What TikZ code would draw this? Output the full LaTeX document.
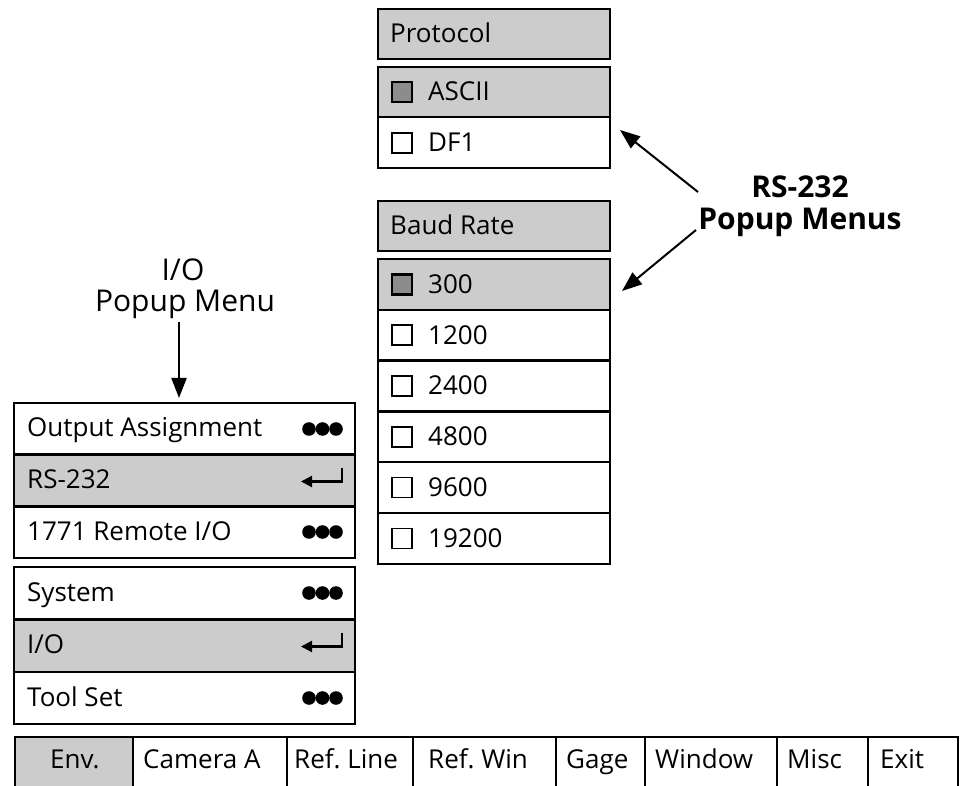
\documentclass[tikz,border=0pt]{standalone}
\usepackage{fontspec}
\setmainfont{Open Sans}
\usetikzlibrary{arrows.meta}
\begin{document}
\frenchspacing
\begin{tikzpicture}[x=1pt,y=-1pt,
  box/.style={draw=black,line width=2.4pt},
  shd/.style={fill=black!20},
  cbox/.style={draw=black,line width=1.6pt},
  cboxon/.style={draw=black,line width=2.6pt,fill=black!45},
  lbl/.style={anchor=base west,inner sep=0pt,font=\fontsize{26}{31}\selectfont},
  big/.style={anchor=base,inner sep=0pt,font=\fontsize{30}{35}\selectfont},
  bigb/.style={anchor=base,inner sep=0pt,font=\fontsize{30}{35}\selectfont\bfseries},
  arr/.style={line width=2pt,-{Triangle[length=20pt,width=15pt]}},
  ret/.style={line width=2.2pt,-{Triangle[length=11pt,width=11pt]}}]
\useasboundingbox (0,0) rectangle (962,786);

% ---------- Protocol ----------
\fill[shd] (378,9) rectangle (610,59);
\draw[box] (378,9) rectangle (610,59);
\node[lbl] (protocol) at (390,43) {Protocol};

\fill[shd] (378,67) rectangle (610,117);
\draw[box] (378,67) rectangle (610,168);
\draw[box] (378,117) -- (610,117);
\draw[cboxon] (392,82) rectangle (412,102);
\node[lbl] (ascii) at (428,101) {ASCII};
\draw[cbox] (392,133) rectangle (412,153);
\node[lbl] (df1) at (428,152) {DF1};

% ---------- Baud Rate ----------
\fill[shd] (378,201) rectangle (610,251);
\draw[box] (378,201) rectangle (610,251);
\node[lbl] (baud) at (390,235) {Baud Rate};

\fill[shd] (378,259) rectangle (610,309.8);
\draw[box] (378,259) rectangle (610,563.8);
\foreach \i in {1,...,5} \draw[box] (378,259+50.8*\i) -- (610,259+50.8*\i);
\draw[cboxon] (392,274.4) rectangle (412,294.4);
\node[lbl] (b300) at (428,293.4) {300};
\foreach \v [count=\i] in {1200,2400,4800,9600,19200}{
  \draw[cbox] (392,274.4+50.8*\i) rectangle (412,294.4+50.8*\i);
  \node[lbl] (b\v) at (428,293.4+50.8*\i) {\v};
}

% ---------- I/O menu ----------
\fill[shd] (14,454.7) rectangle (355,506.3);
\draw[box] (14,403) rectangle (355,558);
\draw[box] (14,454.7) -- (355,454.7);
\draw[box] (14,506.3) -- (355,506.3);
\node[lbl] (outassign) at (27,437) {Output Assignment};
\node[lbl] (rs232) at (27,488.5) {RS-232};
\node[lbl] (remote) at (27,540) {1771 Remote I/O};

% ---------- Main menu ----------
\fill[shd] (14,619.3) rectangle (355,671.7);
\draw[box] (14,567) rectangle (355,724);
\draw[box] (14,619.3) -- (355,619.3);
\draw[box] (14,671.7) -- (355,671.7);
\node[lbl] (system) at (27,601) {System};
\node[lbl] (io) at (27,653.5) {I/O};
\node[lbl] (toolset) at (27,706) {Tool Set};

% dots and return marks
\foreach \y in {429,532,593,698}{
  \fill (309,\y) circle (6.8);
  \fill (322.5,\y) circle (6.8);
  \fill (336,\y) circle (6.8);
}
\foreach \y in {480.5,645.5}{
  \draw[ret] (342,\y-13) -- (342,\y+1) -- (301,\y+1);
}

% ---------- bottom bar ----------
\fill[shd] (15,737) rectangle (133,790);
\draw[box] (15,790) -- (15,737) -- (958,737) -- (958,790);
\foreach \x in {133,287,413,556,645,777,868} \draw[box] (\x,737) -- (\x,790);
\node[lbl] (env) at (50,768) {Env.};
\node[lbl] (cam) at (143,768) {Camera A};
\node[lbl] (refline) at (294,768) {Ref. Line};
\node[lbl] (refwin) at (428,768) {Ref. Win};
\node[lbl] (gage) at (566,768) {Gage};
\node[lbl] (window) at (655,768) {Window};
\node[lbl] (misc) at (787,768) {Misc};
\node[lbl] (exit) at (880,768) {Exit};

% ---------- labels ----------
\node[big] (iolbl) at (183,281) {I/O};
\node[big] (iopm) at (185,312) {Popup Menu};
\coordinate (ioTail) at (179,322);
\coordinate (ioTip) at (179,398);
\draw[arr] (ioTail) -- (ioTip);

\node[bigb] (rslbl) at (800,198) {RS-232};
\node[bigb] (rspm) at (800,230) {Popup Menus};
\coordinate (rsTailA) at (698,192);
\coordinate (rsTipA) at (620,130);
\coordinate (rsTailB) at (696,230);
\coordinate (rsTipB) at (622,291);
\draw[arr] (rsTailA) -- (rsTipA);
\draw[arr] (rsTailB) -- (rsTipB);
\end{tikzpicture}
\end{document}
